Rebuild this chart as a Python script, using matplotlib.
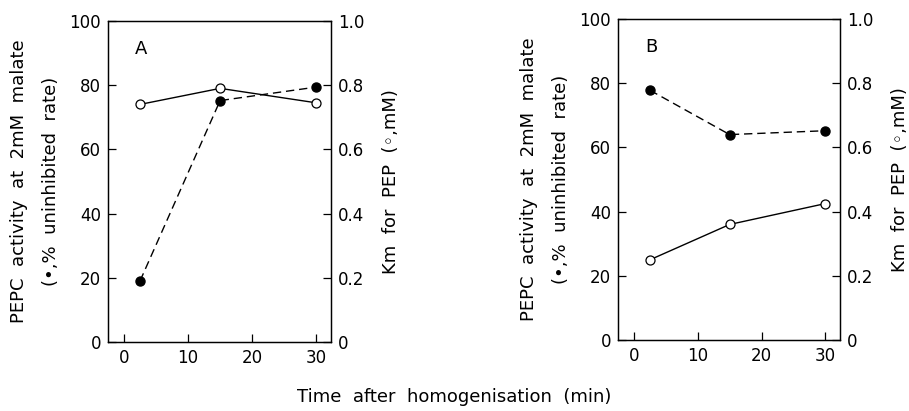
import matplotlib
matplotlib.use("Agg")
import matplotlib.pyplot as plt

plt.rcParams['font.family'] = ['DejaVu Sans']

time_min = [2.5, 15, 30]
activity_A = [19, 75.2, 79.4]      # % uninhibited rate (filled)
km_A = [0.74, 0.79, 0.745]        # mM (open)
activity_B = [77.8, 64, 65.2]
km_B = [0.25, 0.36, 0.425]

y_ticks = [0, 20, 40, 60, 80, 100]
y2_ticks = [0, 0.2, 0.4, 0.6, 0.8, 1.0]
y2_labels = ['0', '0.2', '0.4', '0.6', '0.8', '1.0']
x_ticks = [0, 10, 20, 30]

fig = plt.figure(figsize=(9.09, 4.11), dpi=100)
FS = 12
LFS = 13

def panel(rect, act, km, letter):
    ax = fig.add_axes(rect)
    ax2 = ax.twinx()
    ax.plot(time_min, act, linestyle=(0, (6, 3.5)), color='black', lw=1,
            marker='o', markersize=6.5, markerfacecolor='black',
            markeredgecolor='black', zorder=3)
    ax2.plot(time_min, km, linestyle='-', color='black', lw=1,
             marker='o', markersize=6.5, markerfacecolor='white',
             markeredgecolor='black', markeredgewidth=0.9, zorder=3)
    ax.set_xlim(-2.5, 32.3)
    ax.set_ylim(0, 100)
    ax2.set_ylim(0, 1.0)
    ax.set_xticks(x_ticks)
    ax.set_yticks(y_ticks)
    ax2.set_yticks(y2_ticks)
    ax2.set_yticklabels(y2_labels)
    ax.tick_params(axis='both', direction='in', length=6, width=0.9,
                   labelsize=FS, pad=5)
    ax2.tick_params(axis='y', direction='in', length=6, width=0.9,
                    labelsize=FS, pad=5)
    for a in (ax, ax2):
        for s in a.spines.values():
            s.set_linewidth(0.9)
    ax.set_ylabel('PEPC  activity  at  2mM  malate\n(•,%  uninhibited  rate)',
                  fontsize=LFS, linespacing=2.0)
    ax.yaxis.set_label_coords(-0.215, 0.5)
    ax2.set_ylabel('Km  for  PEP  (◦,mM)', fontsize=LFS)
    ax2.yaxis.set_label_coords(1.23, 0.5)
    ax.text(0.15, 0.94, letter, transform=ax.transAxes, fontsize=FS + 1,
            ha='center', va='top')
    return ax

panel([0.1188, 0.168, 0.2453, 0.781], activity_A, km_A, 'A')
panel([0.680, 0.1727, 0.244, 0.781], activity_B, km_B, 'B')

fig.text(0.5, 0.035, 'Time  after  homogenisation  (min)', ha='center',
         va='center', fontsize=LFS)

fig.savefig('out.png', dpi=100)
